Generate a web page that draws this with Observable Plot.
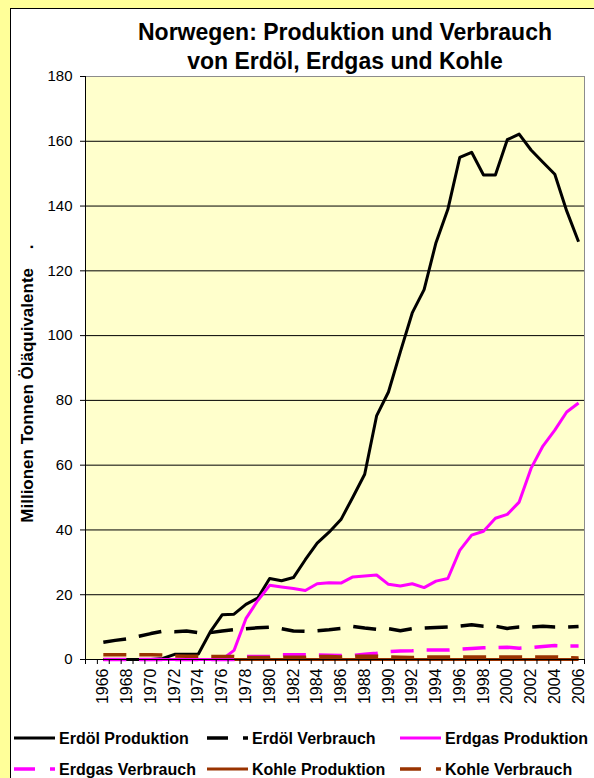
<!DOCTYPE html>
<html><head><meta charset="utf-8">
<script src="https://cdn.jsdelivr.net/npm/d3@7"></script>
<script src="https://cdn.jsdelivr.net/npm/@observablehq/plot@0.6"></script>
<style>
html,body{margin:0;padding:0;}
body{background:#FFFF99;width:594px;height:778px;overflow:hidden;position:relative;font-family:"Liberation Sans",Arial,sans-serif;}
#frame{position:absolute;left:10px;top:8px;width:700px;height:900px;background:#fff;border:1px solid #000;}
#chart svg, #overlay{position:absolute;left:0;top:0;}
</style></head>
<body>
<div id="frame"></div>
<div id="chart"></div>
<svg id="overlay" width="594" height="778"></svg>
<script>
const years = [1966,1967,1968,1969,1970,1971,1972,1973,1974,1975,1976,1977,1978,1979,1980,1981,1982,1983,1984,1985,1986,1987,1988,1989,1990,1991,1992,1993,1994,1995,1996,1997,1998,1999,2000,2001,2002,2003,2004,2005,2006];
const labelYears = [1966,1968,1970,1972,1974,1976,1978,1980,1982,1984,1986,1988,1990,1992,1994,1996,1998,2000,2002,2004,2006];
const yTicks = [0,20,40,60,80,100,120,140,160,180];
const gridValues = [20,40,60,80,100,120,140,160];

const erdoelProduktion = [0,0,0,0,0,0.3,1.6,1.6,1.7,8.5,13.8,14.0,17.0,19.0,25.0,24.3,25.3,30.8,35.9,39.3,43.2,50.1,57.2,75.2,82.6,95.0,107.0,114.2,128.7,139.0,155.0,156.6,149.6,149.6,160.5,162.2,157.3,153.5,149.8,138.5,129.0];
const erdoelVerbrauch = [5.3,5.9,6.4,7.2,8.0,8.7,8.6,8.8,8.3,8.3,8.8,9.2,9.5,9.8,10.0,9.5,8.8,8.7,8.9,9.2,9.6,10.2,9.7,9.3,9.5,8.9,9.5,9.7,9.9,10.0,10.3,10.7,10.3,10.3,9.6,10.0,10.0,10.3,10.0,10.0,10.2];
const erdgasProduktion = [null,null,null,0,0,0,0,0,0,0,0,2.8,12.6,18.2,22.9,22.4,21.9,21.3,23.4,23.7,23.6,25.5,25.8,26.1,23.2,22.7,23.4,22.2,24.2,25.0,33.7,38.4,39.6,43.6,44.8,48.6,59.0,65.9,70.8,76.4,79.2];
const erdgasVerbrauch = [0,0,0,0,0,0,0,0,0,0,0,0,0.9,0.9,1.0,1.45,1.45,1.45,1.4,1.3,1.2,1.3,1.6,1.9,2.4,2.6,2.7,2.9,2.9,2.9,3.2,3.4,3.6,3.7,3.8,3.5,3.7,4.0,4.3,4.2,4.2];
const kohleProduktion = [0,0,0,0,0,0,0,0,0,0,0,0,0,0,0,0,0,0,0,0,0,0,0,0,0,0,0,0,0,0,0,0,0,0,0,0,0,0,0,0,0];
const kohleVerbrauch = [1.5,1.5,1.5,1.5,1.5,1.4,1.1,1.0,1.0,0.9,0.9,0.9,0.6,0.6,0.6,0.7,0.7,0.7,0.9,0.9,0.8,1.0,1.0,1.0,0.8,0.7,0.6,0.8,0.8,0.8,0.8,0.8,0.8,0.8,0.8,0.8,0.8,0.8,0.8,0.6,0.5];

const seriesNames = ["Erdöl Produktion","Erdöl Verbrauch","Erdgas Produktion","Erdgas Verbrauch","Kohle Produktion","Kohle Verbrauch"];
const seriesColors = ["#000000","#000000","#FF00FF","#FF00FF","#993300","#993300"];
const seriesDashed = [false,true,false,true,false,true];
const seriesValues = [erdoelProduktion,erdoelVerbrauch,erdgasProduktion,erdgasVerbrauch,kohleProduktion,kohleVerbrauch];

const boundaries = [years[0]-1.5].concat(years.map(y => y - 0.5), [years[years.length-1] + 0.5]);

function lineMark(i){
  return Plot.line(seriesValues[i], {
    x: years, y: d => d,
    stroke: seriesColors[i],
    strokeWidth: seriesDashed[i] ? 3.5 : 3,
    strokeDasharray: seriesDashed[i] ? "23,13" : null,
    strokeLinejoin: "round",
    strokeLinecap: "butt"
  });
}

const chart = Plot.plot({
  width: 594, height: 720,
  marginLeft: 85, marginRight: 10, marginTop: 76, marginBottom: 61,
  style: {background: "transparent", fontFamily: "Liberation Sans, Arial, sans-serif", fontSize: "15px", color: "#000", overflow: "visible"},
  x: {type: "linear", domain: [years[0]-1.5, years[years.length-1]+0.5]},
  y: {domain: [0, 180]},
  marks: [
    Plot.frame({fill: "#FFFFCC", stroke: "#8c8c8c"}),
    Plot.gridY({ticks: gridValues, stroke: "#000", strokeOpacity: 1, strokeWidth: 1}),
    lineMark(4),
    lineMark(0), lineMark(1), lineMark(2), lineMark(3), lineMark(5),
    Plot.ruleY([0], {stroke: "#000", strokeWidth: 1}),
    Plot.ruleX([years[0]-1.5], {stroke: "#000", strokeWidth: 1}),
    Plot.axisY({ticks: yTicks, tickSize: 5, tickPadding: 8, label: null, fontSize: 15, tickFormat: d => String(d)}),
    Plot.axisX({ticks: boundaries, tickSize: 5, tickFormat: () => "", label: null}),
    Plot.axisX({ticks: labelYears, tickSize: 0, tickRotate: -90, tickPadding: 9, tickFormat: d => String(d), label: null, fontSize: 16})
  ]
});
document.getElementById("chart").appendChild(chart);

// overlay: title, y-axis title, legend
const ov = d3.select("#overlay");
const ff = "Liberation Sans, Arial, sans-serif";
ov.append("text").attr("x", 345).attr("y", 40).attr("text-anchor", "middle")
  .attr("font-family", ff).attr("font-weight", "bold").attr("font-size", 23).text("Norwegen: Produktion und Verbrauch");
ov.append("text").attr("x", 345).attr("y", 69).attr("text-anchor", "middle")
  .attr("font-family", ff).attr("font-weight", "bold").attr("font-size", 23).text("von Erdöl, Erdgas und Kohle");
ov.append("text").attr("transform", "translate(32.5,268) rotate(-90)").attr("text-anchor", "end")
  .attr("font-family", ff).attr("font-weight", "bold").attr("font-size", 17).text("Millionen Tonnen Öläquivalente");
ov.append("text").attr("transform", "translate(32.5,247) rotate(-90)").attr("text-anchor", "middle")
  .attr("font-family", ff).attr("font-weight", "bold").attr("font-size", 17).text(".");

seriesNames.forEach((name, i) => {
  const col = i % 3, row = Math.floor(i / 3);
  const x0 = 14 + 193 * col;
  const cy = row === 0 ? 738 : 769;
  ov.append("line").attr("x1", x0).attr("x2", x0 + 41).attr("y1", cy).attr("y2", cy)
    .attr("stroke", seriesColors[i]).attr("stroke-width", seriesDashed[i] ? 3.5 : 3)
    .attr("stroke-dasharray", seriesDashed[i] ? "21,15" : null);
  ov.append("text").attr("x", x0 + 45).attr("y", cy + 5.5)
    .attr("font-family", ff).attr("font-weight", "bold").attr("font-size", 16).text(name);
});
</script>
</body></html>
